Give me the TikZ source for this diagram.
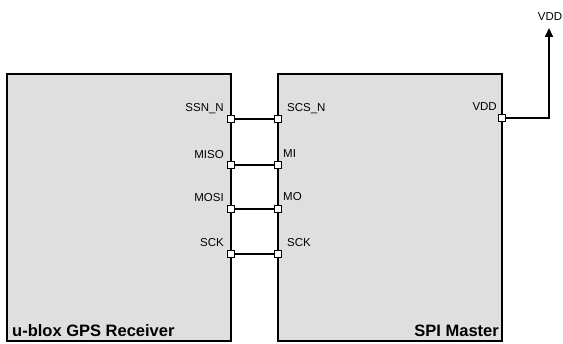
\documentclass[tikz,border=0pt]{standalone}
\usepackage{fontspec}
\setmainfont{Liberation Sans}
\usetikzlibrary{arrows.meta,positioning,calc}
\definecolor{Ink}{HTML}{000000}
\definecolor{BlockFill}{HTML}{DFDFDF}

\begin{document}
\begin{tikzpicture}[x=1pt,y=-1pt,>=stealth,
  block/.style={draw=Ink,fill=BlockFill,line width=2.2pt,minimum width=224pt,minimum height=267pt,inner sep=0pt},
  pin/.style={draw=Ink,fill=white,line width=1pt,minimum size=6.5pt,inner sep=0pt},
  pinlabel/.style={font=\fontsize{11.5}{13}\selectfont,text=Ink,inner sep=0pt},
  blocktitle/.style={font=\fontsize{16.5}{18}\selectfont\bfseries,text=Ink,inner sep=0pt},
  wire/.style={draw=Ink,line width=1.7pt}]
\useasboundingbox (0,0) rectangle (563,344);
\node[block] (gps) at (119,207.5) {};
\node[block] (master) at (390,207.5) {};
\node[blocktitle,anchor=base west] (gpstitle) at (12,336.7) {u-blox GPS Receiver};
\node[blocktitle,anchor=base east] (mastertitle) at (499,337) {SPI Master};
\node[pinlabel,anchor=base east] (lssn) at (224,112) {SSN\_N};
\node[pinlabel,anchor=base east] (lmiso) at (224,158.5) {MISO};
\node[pinlabel,anchor=base east] (lmosi) at (224,201.5) {MOSI};
\node[pinlabel,anchor=base east] (lsck) at (224,247) {SCK};
\node[pinlabel,anchor=base west] (lscs) at (287,111.7) {SCS\_N};
\node[pinlabel,anchor=base west] (lmi) at (283,157.3) {MI};
\node[pinlabel,anchor=base west] (lmo) at (283,201) {MO};
\node[pinlabel,anchor=base west] (lsckm) at (287,246.7) {SCK};
\node[pinlabel,anchor=base east] (lvdd) at (497,110.7) {VDD};
\node[pinlabel,anchor=base] (vddrail) at (550,20.7) {VDD};
\coordinate (vddend) at (549,28);
\node[pin] (pssn) at (231,119) {};
\node[pin] (pmiso) at (231,165) {};
\node[pin] (pmosi) at (231,209) {};
\node[pin] (psck) at (231,254) {};
\node[pin] (pscs) at (278,119) {};
\node[pin] (pmi) at (278,165) {};
\node[pin] (pmo) at (278,209) {};
\node[pin] (psckm) at (278,254) {};
\node[pin] (pvdd) at (502,118) {};
\draw[wire] (pssn) -- (pscs);
\draw[wire] (pmiso) -- (pmi);
\draw[wire] (pmosi) -- (pmo);
\draw[wire] (psck) -- (psckm);
\draw[wire,-{Triangle[length=9pt,width=8pt]}] (pvdd.east) -| (vddend);
\end{tikzpicture}
\end{document}
